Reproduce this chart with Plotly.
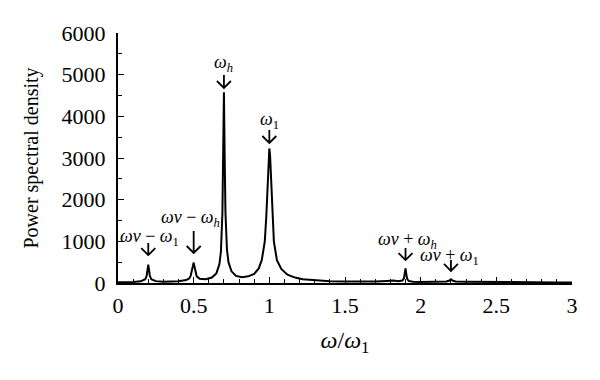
import plotly.graph_objects as go

# Data
freq_ratio = [0, 0.05, 0.1, 0.15, 0.18, 0.19, 0.195, 0.2, 0.205, 0.21, 0.22, 0.25, 0.3, 0.35, 0.4,
              0.45, 0.47, 0.48, 0.49, 0.495, 0.5, 0.505, 0.51, 0.52, 0.54, 0.58, 0.62, 0.65, 0.67,
              0.68, 0.69, 0.695, 0.7, 0.705, 0.71, 0.72, 0.73, 0.75, 0.78, 0.82, 0.86, 0.9, 0.93,
              0.95, 0.97, 0.98, 0.99, 0.995, 1.0, 1.005, 1.01, 1.02, 1.03, 1.05, 1.08, 1.12, 1.17,
              1.22, 1.3, 1.4, 1.5, 1.6, 1.7, 1.78, 1.82, 1.85, 1.88, 1.89, 1.895, 1.9, 1.905, 1.91,
              1.92, 1.95, 2.0, 2.1, 2.17, 2.19, 2.2, 2.21, 2.23, 2.3, 2.4, 2.5, 2.6, 2.7, 2.8, 2.9, 3.0]
psd = [20, 20, 25, 40, 90, 180, 320, 440, 320, 180, 90, 45, 30, 30, 40,
       70, 110, 170, 300, 420, 490, 400, 280, 160, 100, 90, 130, 230, 450,
       750, 1700, 3000, 4580, 3000, 1700, 800, 500, 280, 170, 140, 160, 220, 350,
       550, 1000, 1600, 2600, 3050, 3230, 3050, 2600, 1600, 1000, 550, 330, 200, 130,
       90, 60, 40, 35, 30, 35, 50, 60, 40, 60, 120, 220, 350, 220, 110,
       50, 30, 25, 25, 35, 60, 90, 60, 35, 30, 25, 20, 20, 20, 20, 15, 15]

x_ticks = [0, 0.5, 1, 1.5, 2, 2.5, 3]
x_tick_labels = ["0", "0.5", "1", "1.5", "2", "2.5", "3"]
y_ticks = [0, 1000, 2000, 3000, 4000, 5000, 6000]
y_tick_labels = ["0", "1000", "2000", "3000", "4000", "5000", "6000"]

peak_labels = ["<i>ω<sub>h</sub></i>", "<i>ω</i><sub>1</sub>",
               "<i>ωv</i> − <i>ω</i><sub>1</sub>", "<i>ωv</i> − <i>ω<sub>h</sub></i>",
               "<i>ωv</i> + <i>ω<sub>h</sub></i>", "<i>ωv</i> + <i>ω</i><sub>1</sub>"]

# Annotation placement (layout, not data)
label_pos = [(0.70, 5280), (1.0, 3890), (0.21, 1100), (0.476, 1560), (1.916, 1010), (2.19, 630)]
arrow_pos = [(0.70, 4680, 13), (1.0, 3360, 13), (0.2, 670, 12), (0.5, 720, 22), (1.9, 550, 12), (2.2, 290, 11)]

FONT = "Liberation Serif"

fig = go.Figure()
fig.add_trace(go.Scatter(x=freq_ratio, y=psd, mode="lines",
                         line=dict(color="black", width=2), showlegend=False))

for txt, (lx, ly) in zip(peak_labels, label_pos):
    fig.add_annotation(x=lx, y=ly, xref="x", yref="y", text=txt, showarrow=False,
                       font=dict(family=FONT, size=18, color="black"), yanchor="middle")

for (ax_, ay_, L) in arrow_pos:
    fig.add_shape(type="path", xref="x", yref="y", xsizemode="pixel", ysizemode="pixel",
                  xanchor=ax_, yanchor=ay_,
                  path=f"M0,{L} L0,0 M-7,7 L0,0 L7,7",
                  line=dict(color="black", width=1.8))

fig.update_layout(
    width=600, height=380,
    margin=dict(l=110, r=36, t=25, b=105),
    plot_bgcolor="white", paper_bgcolor="white",
    font=dict(family=FONT, color="black"),
)
fig.update_xaxes(range=[0, 3], tickvals=x_ticks, ticktext=x_tick_labels, automargin=False,
                 ticks="inside", ticklen=6, tickwidth=1, tickcolor="black", ticklabelstandoff=2,
                 minor=dict(dtick=0.1, ticks="inside", ticklen=4, tickcolor="black"),
                 showline=True, linecolor="black", linewidth=2, showgrid=False, zeroline=False,
                 tickfont=dict(size=22, family=FONT),
                 title=dict(text="<i>ω</i>/<i>ω</i><sub>1</sub>", font=dict(size=24, family=FONT), standoff=14))
fig.update_yaxes(range=[0, 6000], tickvals=y_ticks, ticktext=y_tick_labels, automargin=False,
                 ticks="inside", ticklen=6, tickwidth=1, tickcolor="black", ticklabelstandoff=6,
                 minor=dict(dtick=500, ticks="inside", ticklen=4, tickcolor="black"),
                 showline=True, linecolor="black", linewidth=2, showgrid=False, zeroline=False,
                 tickfont=dict(size=22, family=FONT),
                 title=dict(text="Power spectral density", font=dict(size=20, family=FONT), standoff=18))

fig.write_html("out.html")
